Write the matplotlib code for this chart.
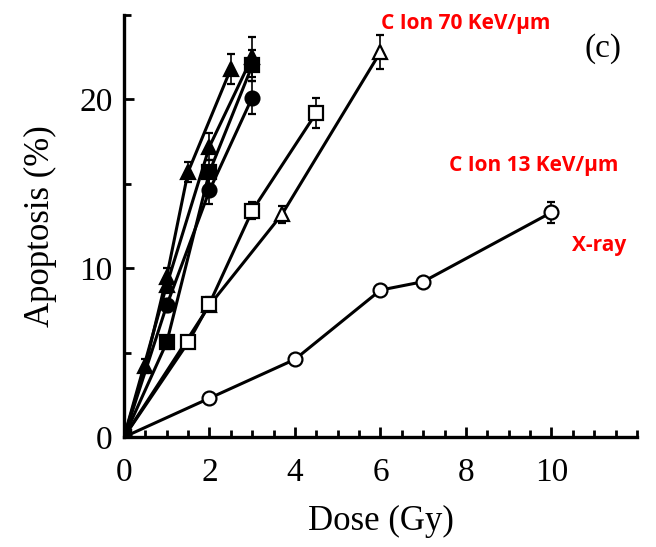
import matplotlib
matplotlib.use("Agg")
import matplotlib.pyplot as plt
from matplotlib.ticker import MultipleLocator

# dose (Gy) / apoptosis (%)
tri_f1_x = [0, 0.5, 1, 1.5, 2.5]
tri_f1_y = [0, 4.2, 9.5, 15.7, 21.8]
tri_f1_e = [0, 0.4, 0.5, 0.6, 0.9]

tri_f2_x = [0, 1, 2, 3]
tri_f2_y = [0, 9.0, 17.2, 22.5]
tri_f2_e = [0, 0.5, 0.8, 1.2]

sq_f_x = [0, 1, 2, 3]
sq_f_y = [0, 5.6, 15.7, 22.0]
sq_f_e = [0, 0.4, 0.7, 0.9]

circ_f_x = [0, 1, 2, 3]
circ_f_y = [0, 7.8, 14.6, 20.1]
circ_f_e = [0, 0.4, 0.8, 1.0]

sq_o_x = [0, 1.5, 2, 3, 4.5]
sq_o_y = [0, 5.6, 7.9, 13.4, 19.2]
sq_o_e = [0, 0.3, 0.4, 0.5, 0.9]

tri_o_x = [0, 2, 3.7, 6]
tri_o_y = [0, 7.8, 13.2, 22.8]
tri_o_e = [0, 0.3, 0.5, 1.0]

circ_o_x = [0, 2, 4, 6, 7, 10]
circ_o_y = [0, 2.3, 4.6, 8.7, 9.2, 13.3]
circ_o_e = [0, 0.2, 0.2, 0.3, 0.3, 0.6]

x_ticks = [0, 2, 4, 6, 8, 10]
y_ticks = [0, 10, 20]

plt.rcParams['font.family'] = 'Liberation Serif'

fig = plt.figure(figsize=(6.56, 5.47), dpi=100)
ax = fig.add_axes([0.189, 0.201, 0.782, 0.772])

series = [
    (circ_o_x, circ_o_y, circ_o_e, 'o', 'white'),
    (tri_o_x, tri_o_y, tri_o_e, '^', 'white'),
    (sq_o_x, sq_o_y, sq_o_e, 's', 'white'),
    (circ_f_x, circ_f_y, circ_f_e, 'o', 'black'),
    (sq_f_x, sq_f_y, sq_f_e, 's', 'black'),
    (tri_f2_x, tri_f2_y, tri_f2_e, '^', 'black'),
    (tri_f1_x, tri_f1_y, tri_f1_e, '^', 'black'),
]
for x, y, e, m, fc in series:
    ax.errorbar(x, y, yerr=e, fmt='-', marker=m, color='black', mfc=fc,
                mec='black', mew=1.6, ms=10, lw=2.2, elinewidth=1.2,
                capsize=3, capthick=1.2)

ax.set_xlim(0, 12)
ax.set_ylim(0, 25)
ax.set_xticks(x_ticks)
ax.set_yticks(y_ticks)
ax.xaxis.set_minor_locator(MultipleLocator(0.5))
ax.yaxis.set_minor_locator(MultipleLocator(5))
for s in ['top', 'right']:
    ax.spines[s].set_visible(False)
for s in ['left', 'bottom']:
    ax.spines[s].set_linewidth(2.4)
ax.tick_params(which='both', direction='in', width=2, labelsize=24)
ax.tick_params(which='major', length=7)
ax.tick_params(axis='x', which='major', pad=15)
ax.tick_params(axis='y', which='major', pad=8)
ax.tick_params(which='minor', length=5)
ax.set_xlabel('Dose (Gy)', fontsize=25, labelpad=12)
ax.set_ylabel('Apoptosis (%)', fontsize=25, labelpad=16)

ax.text(11.2, 23.0, '(c)', fontsize=24, ha='center', va='center')
fig.text(466 / 656, 1 - 24 / 547, 'C Ion 70 KeV/µm', color='red',
         fontsize=15, fontweight='bold', family='Open Sans',
         ha='center', va='center')
fig.text(534 / 656, 1 - 166 / 547, 'C Ion 13 KeV/µm', color='red',
         fontsize=15, fontweight='bold', family='Open Sans',
         ha='center', va='center')
fig.text(599 / 656, 1 - 246 / 547, 'X-ray', color='red',
         fontsize=15, fontweight='bold', family='Open Sans',
         ha='center', va='center')

fig.savefig('out.png', dpi=100)
